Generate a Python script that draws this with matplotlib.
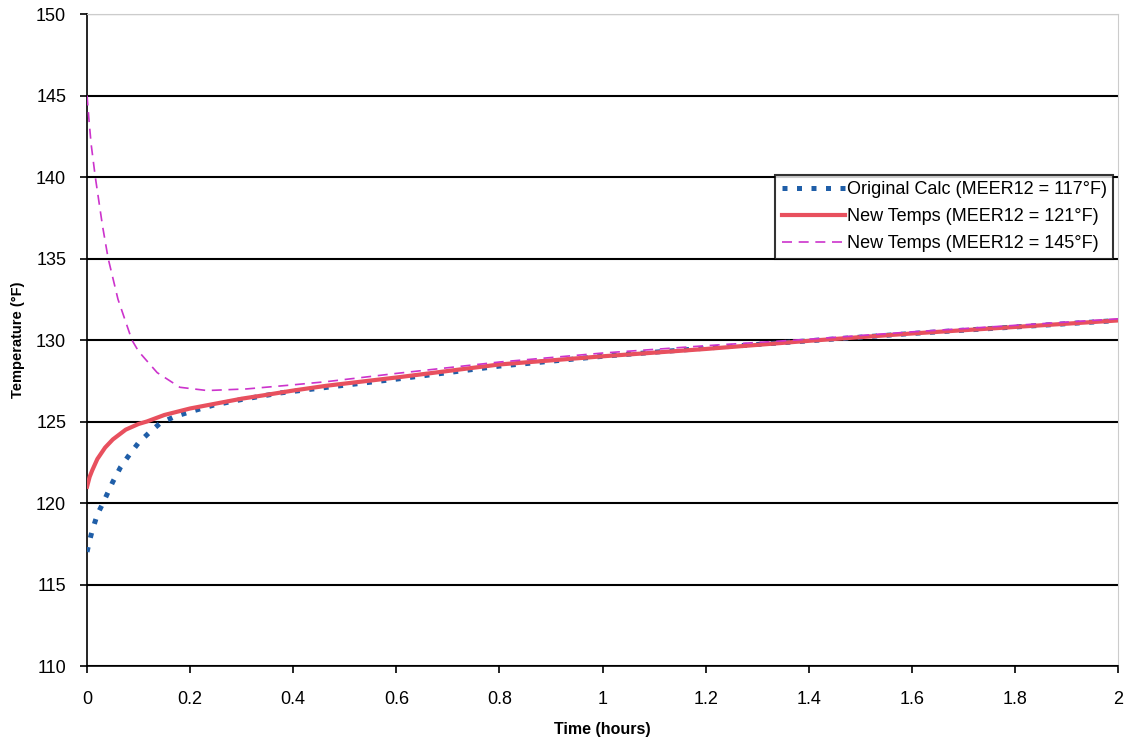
import matplotlib.pyplot as plt

plt.rcParams['font.family'] = ['Liberation Sans', 'DejaVu Sans']

# tiempos (horas) y temperaturas (°F) de cada serie
t_orig = [0, 0.005, 0.01, 0.02, 0.031, 0.05, 0.065, 0.083, 0.1, 0.12, 0.142, 0.17, 0.2, 0.245,
          0.3, 0.374, 0.466, 0.6, 0.8, 1.0, 1.2, 1.4, 1.6, 1.8, 2.0]
temp_orig = [117.0, 117.7, 118.3, 119.3, 120.0, 121.3, 122.2, 123.0, 123.7, 124.3, 124.9, 125.3,
             125.6, 126.0, 126.35, 126.75, 127.1, 127.6, 128.4, 129.0, 129.5, 129.95, 130.4, 130.8, 131.2]

t_new121 = [0, 0.005, 0.01, 0.02, 0.035, 0.05, 0.075, 0.1, 0.116, 0.15, 0.2, 0.25, 0.3, 0.341,
            0.4, 0.466, 0.6, 0.8, 1.0, 1.2, 1.4, 1.6, 1.8, 2.0]
temp_new121 = [121.0, 121.6, 122.0, 122.7, 123.4, 123.9, 124.5, 124.85, 125.0, 125.4, 125.8, 126.1,
               126.4, 126.6, 126.9, 127.2, 127.7, 128.5, 129.0, 129.45, 129.95, 130.4, 130.8, 131.2]

t_new145 = [0, 0.004, 0.008, 0.016, 0.03, 0.041, 0.06, 0.087, 0.1, 0.136, 0.18, 0.233, 0.31,
            0.4, 0.466, 0.6, 0.8, 1.0, 1.2, 1.4, 1.6, 1.8, 2.0]
temp_new145 = [145.0, 143.4, 142.0, 140.0, 137.0, 135.0, 132.5, 130.0, 129.3, 128.0, 127.1, 126.9,
               127.0, 127.25, 127.45, 127.95, 128.65, 129.2, 129.65, 130.05, 130.5, 130.9, 131.3]

x_ticks = [0, 0.2, 0.4, 0.6, 0.8, 1, 1.2, 1.4, 1.6, 1.8, 2]
x_tick_labels = ['0', '0.2', '0.4', '0.6', '0.8', '1', '1.2', '1.4', '1.6', '1.8', '2']
y_ticks = [110, 115, 120, 125, 130, 135, 140, 145, 150]

fig = plt.figure(figsize=(11.29, 7.41), dpi=100)
ax = fig.add_axes([0.0771, 0.1012, 0.9132, 0.8799])

ax.plot(t_orig, temp_orig, color='#1f5ea8', linewidth=3.6, dashes=(1.0, 1.9),
        dash_capstyle='butt', label='Original Calc (MEER12 = 117°F)', zorder=3)
ax.plot(t_new121, temp_new121, color='#e8505e', linewidth=3.0,
        label='New Temps (MEER12 = 121°F)', zorder=4)
ax.plot(t_new145, temp_new145, color='#cc33cc', linewidth=1.2, dashes=(6, 4),
        label='New Temps (MEER12 = 145°F)', zorder=5)

ax.set_xlim(0, 2)
ax.set_ylim(110, 150)
ax.set_xticks(x_ticks)
ax.set_xticklabels(x_tick_labels)
ax.set_yticks(y_ticks)
ax.yaxis.grid(True, color='black', linewidth=1.5)
ax.set_axisbelow(True)

for lado in ['top', 'right']:
    ax.spines[lado].set_color('#cccccc')
for lado in ['left', 'bottom']:
    ax.spines[lado].set_color('black')
    ax.spines[lado].set_linewidth(1.2)

ax.tick_params(axis='both', direction='out', length=5, width=1.2, labelsize=13, colors='black')
ax.tick_params(axis='x', pad=13)
ax.tick_params(axis='y', pad=10)

ax.set_xlabel('Time (hours)', fontsize=11.5, fontweight='bold', labelpad=10)
ax.set_ylabel('Temperature (°F)', fontsize=10.5, fontweight='bold', labelpad=8)

leg = ax.legend(loc='upper right', bbox_to_anchor=(0.995, 0.753), fontsize=13,
                frameon=True, fancybox=False, borderpad=0.35, labelspacing=0.55,
                handlelength=3.5, handletextpad=0.1, borderaxespad=0)
leg.get_frame().set_edgecolor('black')
leg.get_frame().set_linewidth(1.5)

plt.savefig('out.png', dpi=100)
